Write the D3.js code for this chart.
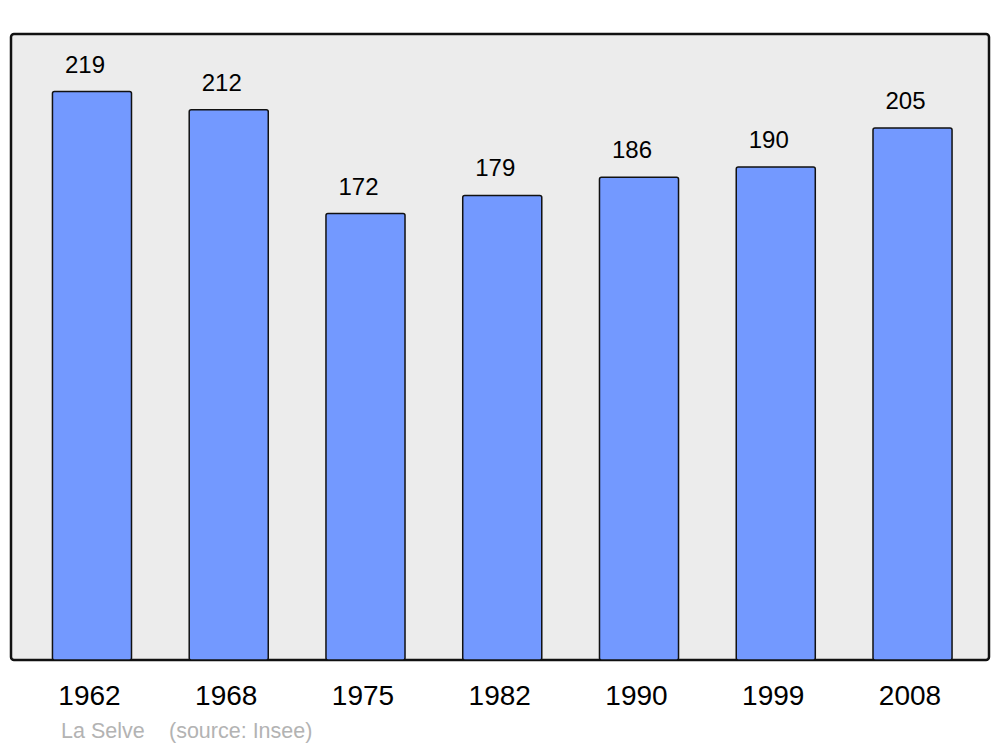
<!DOCTYPE html>
<html><head><meta charset="utf-8">
<script src="https://cdn.jsdelivr.net/npm/d3@7"></script>
<style>body{margin:0;background:#fff}svg{display:block}</style>
</head><body>
<script>
const years = ["1962","1968","1975","1982","1990","1999","2008"];
const population = [219,212,172,179,186,190,205];
const place = "La Selve";
const source = "(source: Insee)";

const W = 1000, H = 747;
const svg = d3.select("body").append("svg").attr("width", W).attr("height", H);
const panel = {x0: 11, x1: 989, y0: 34, y1: 660};

svg.append("rect").attr("x", panel.x0).attr("y", panel.y0)
  .attr("width", panel.x1 - panel.x0).attr("height", panel.y1 - panel.y0)
  .attr("rx", 3).attr("fill", "#ececec").attr("stroke", "#111").attr("stroke-width", 2.5);

const x = d3.scaleBand().domain(years).range([23.6, 980.9]).paddingInner(0.422).paddingOuter(0.211);
const y = d3.scaleLinear().domain([0, 241.2]).range([panel.y1, panel.y0]);

svg.append("g").selectAll("rect").data(years).join("rect")
  .attr("x", d => x(d)).attr("width", x.bandwidth())
  .attr("y", (d,i) => y(population[i])).attr("height", (d,i) => y(0) - y(population[i]))
  .attr("rx", 2).attr("fill", "#7399ff").attr("stroke", "#111").attr("stroke-width", 1.5);

svg.append("g").selectAll("text").data(years).join("text")
  .attr("x", d => x(d) + x.bandwidth()/2 - 7)
  .attr("y", (d,i) => y(population[i]) - 19)
  .attr("text-anchor", "middle").attr("font-family", "Liberation Sans, Arial, sans-serif")
  .attr("font-size", 24).attr("fill", "#000").text((d,i) => population[i]);

svg.append("g").selectAll("text").data(years).join("text")
  .attr("x", d => x(d) + x.bandwidth()/2 - 2.5).attr("y", 705)
  .attr("text-anchor", "middle").attr("font-family", "Liberation Sans, Arial, sans-serif")
  .attr("font-size", 28).attr("fill", "#000").text(d => d);

svg.append("text").attr("x", 61).attr("y", 738)
  .attr("font-family", "Liberation Sans, Arial, sans-serif").attr("font-size", 21.5)
  .attr("fill", "#b3b3b3").text(place);
svg.append("text").attr("x", 169).attr("y", 738)
  .attr("font-family", "Liberation Sans, Arial, sans-serif").attr("font-size", 21.5)
  .attr("fill", "#b3b3b3").text(source);
</script>
</body></html>
